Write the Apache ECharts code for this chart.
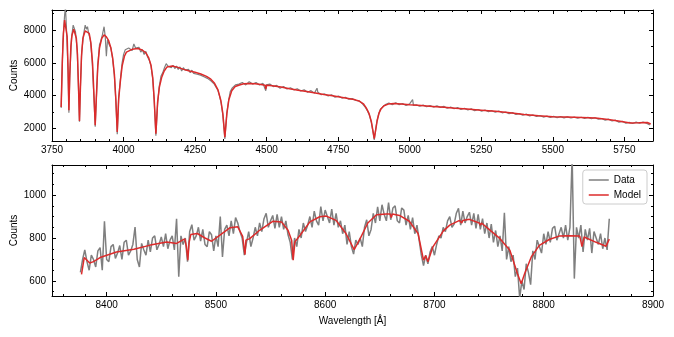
<!DOCTYPE html>
<html lang="en">
<head>
    <meta charset="UTF-8">
    <title>Spectrum fit</title>
    <script src="https://cdn.jsdelivr.net/npm/echarts@6/dist/echarts.min.js"></script>
    <style>
        html, body { margin: 0; padding: 0; background: #fff; }
        #chart { width: 674px; height: 337px; }
    </style>
</head>
<body>
<div id="chart"></div>
<script>
// blue arm: [wavelength, counts]
const topData = [
    [3782,3250],[3788,7300],[3794,8900],[3797,9400],[3800,8300],[3806,5700],[3809,2950],[3812,5100],
    [3818,7500],[3824,8300],[3828,8200],[3832,7900],[3838,6800],[3843,4200],[3846,2400],[3849,4400],
    [3854,6700],[3860,7700],[3866,8300],[3870,8050],[3874,8200],[3878,7800],[3884,7400],[3890,6200],
    [3895,4400],[3901,2100],[3905,3800],[3910,5900],[3916,7100],[3920,7300],[3926,7700],[3932,8200],
    [3936,7600],[3940,6400],[3944,7400],[3950,7100],[3956,6900],[3962,6200],[3968,5200],[3973,3700],
    [3978,1650],[3983,3900],[3989,5000],[3995,6000],[4000,6500],[4006,6800],[4012,6700],[4018,6900],
    [4024,7000],[4030,6750],[4036,7150],[4042,6900],[4048,6800],[4054,6950],[4060,6650],[4066,6800],
    [4072,6500],[4078,6700],[4084,6350],[4090,6150],[4096,5800],[4102,5000],[4107,3700],[4113,1550],
    [4119,3500],[4125,4600],[4131,5200],[4137,5400],[4143,5700],[4149,5950],[4155,5800],[4161,5900],
    [4167,5700],[4173,5850],[4179,5650],[4185,5800],[4191,5600],[4197,5750],[4203,5500],[4209,5700],
    [4215,5550],[4221,5450],[4227,5600],[4233,5400],[4239,5550],[4245,5350],[4251,5450],[4257,5300],
    [4263,5400],[4269,5250],[4275,5350],[4281,5150],[4287,5200],[4293,5050],[4299,5100],[4305,4900],
    [4311,4900],[4317,4700],[4323,4600],[4329,4350],[4335,4000],[4341,3550],[4347,2800],[4354,1350],
    [4361,2950],[4367,3700],[4373,4250],[4379,4450],[4385,4500],[4391,4650],[4397,4550],[4403,4700],
    [4415,4800],[4427,4650],[4439,4850],[4451,4700],[4463,4800],[4475,4650],[4487,4750],[4497,4300],
    [4499,4650],[4511,4700],[4523,4550],[4535,4620],[4547,4450],[4559,4550],[4571,4400],[4583,4480],
    [4595,4350],[4607,4420],[4619,4280],[4631,4350],[4643,4200],[4655,4300],[4667,4150],[4676,4450],
    [4679,4200],[4691,4050],[4703,4100],[4715,3980],[4727,4050],[4739,3900],[4751,3970],[4763,3850],
    [4775,3900],[4787,3780],[4799,3820],[4811,3700],[4823,3680],[4835,3500],[4845,3280],[4853,3050],
    [4860,2750],[4866,2350],[4871,1850],[4876,1300],[4881,1950],[4886,2500],[4891,2850],[4897,3150],
    [4905,3300],[4915,3450],[4927,3550],[4939,3450],[4951,3560],[4963,3450],[4975,3520],[4987,3400],
    [4999,3480],[5010,3750],[5013,3400],[5023,3430],[5035,3350],[5047,3420],[5059,3320],[5071,3390],
    [5083,3300],[5095,3370],[5107,3280],[5119,3340],[5131,3230],[5143,3300],[5155,3200],[5167,3270],
    [5179,3150],[5191,3230],[5203,3120],[5215,3190],[5227,3080],[5239,3150],[5251,3050],[5263,3120],
    [5275,3020],[5287,3080],[5299,2980],[5311,3060],[5323,2950],[5335,3000],[5347,2900],[5359,2960],
    [5371,2850],[5383,2900],[5395,2800],[5407,2870],[5419,2760],[5431,2820],[5443,2730],[5455,2780],
    [5467,2690],[5479,2750],[5491,2670],[5503,2730],[5515,2650],[5527,2720],[5539,2640],[5551,2700],
    [5563,2630],[5575,2690],[5587,2620],[5599,2680],[5611,2610],[5623,2670],[5635,2590],[5647,2650],
    [5659,2560],[5671,2600],[5683,2500],[5695,2560],[5707,2450],[5719,2500],[5731,2380],[5743,2430],
    [5755,2310],[5767,2370],[5779,2300],[5791,2380],[5803,2310],[5815,2390],[5827,2320],[5839,2200]
];

const topModel = [
    [3782,3300],[3786,6000],[3790,7800],[3794,8600],[3797,8720],[3800,8500],[3803,7600],[3806,5600],
    [3809,3100],[3812,5200],[3816,7000],[3820,7700],[3826,8050],[3830,8000],[3835,7500],[3839,6500],
    [3843,4300],[3846,2450],[3849,4300],[3853,6400],[3858,7500],[3866,7950],[3872,8000],[3880,7800],
    [3886,7200],[3892,5900],[3897,3900],[3901,2190],[3905,3900],[3910,5800],[3916,6900],[3924,7500],
    [3932,7700],[3940,7580],[3948,7350],[3955,6950],[3962,6300],[3968,5300],[3973,3800],[3978,1780],
    [3983,3800],[3989,4900],[3995,5800],[4003,6400],[4010,6650],[4030,6820],[4050,6870],[4065,6780],
    [4078,6600],[4088,6300],[4096,5850],[4102,5100],[4107,3800],[4113,1680],[4119,3600],[4125,4500],
    [4133,5100],[4142,5500],[4152,5750],[4170,5800],[4190,5720],[4210,5600],[4230,5500],[4250,5420],
    [4270,5320],[4290,5170],[4305,5000],[4318,4750],[4330,4350],[4340,3700],[4347,2900],[4354,1470],
    [4361,2900],[4368,3750],[4378,4300],[4390,4550],[4405,4650],[4420,4720],[4440,4740],[4460,4720],
    [4480,4680],[4495,4630],[4497,4400],[4500,4630],[4520,4600],[4550,4520],[4580,4420],[4610,4330],
    [4640,4250],[4670,4160],[4700,4070],[4730,3990],[4760,3900],[4790,3810],[4810,3740],[4825,3650],
    [4838,3500],[4848,3250],[4858,2900],[4866,2400],[4871,1900],[4876,1380],[4881,1900],[4886,2450],
    [4893,2950],[4900,3200],[4910,3380],[4925,3480],[4945,3510],[4970,3490],[5000,3440],[5040,3390],
    [5080,3340],[5120,3290],[5160,3230],[5200,3180],[5250,3110],[5300,3040],[5350,2950],[5400,2850],
    [5450,2770],[5500,2710],[5550,2690],[5600,2660],[5650,2630],[5700,2520],[5740,2420],[5770,2330],
    [5800,2340],[5830,2360],[5842,2270]
];

// red arm (Ca triplet region)
const botData = [
    [8376,640],[8378,700],[8380,745],[8382,690],[8384,650],[8386,720],[8388,700],[8390,665],
    [8392,740],[8394,755],[8396,650],[8398,878],[8400,700],[8402,690],[8404,760],[8406,770],
    [8408,705],[8410,730],[8412,765],[8414,700],[8416,780],[8418,790],[8420,720],[8422,740],
    [8424,770],[8426,851],[8428,700],[8430,665],[8432,775],[8434,745],[8436,720],[8438,790],
    [8440,735],[8442,800],[8444,810],[8446,745],[8448,770],[8450,805],[8452,760],[8454,820],
    [8456,750],[8458,790],[8460,810],[8462,745],[8464,890],[8466,620],[8468,810],[8470,770],
    [8472,800],[8474,690],[8476,830],[8478,862],[8480,790],[8482,810],[8484,850],[8486,785],
    [8488,840],[8490,770],[8492,760],[8494,830],[8496,815],[8498,740],[8500,810],[8502,760],
    [8504,900],[8506,712],[8508,840],[8510,860],[8512,810],[8514,880],[8516,820],[8518,895],
    [8520,870],[8522,830],[8524,800],[8526,720],[8528,780],[8530,830],[8532,760],[8534,800],
    [8536,850],[8538,810],[8540,870],[8542,830],[8544,890],[8546,915],[8548,850],[8550,880],
    [8552,905],[8554,845],[8556,910],[8558,850],[8560,900],[8562,840],[8564,880],[8566,815],
    [8568,780],[8570,700],[8572,800],[8574,760],[8576,840],[8578,800],[8580,870],[8582,830],
    [8584,860],[8586,900],[8588,850],[8590,925],[8592,880],[8594,860],[8596,946],[8598,880],
    [8600,930],[8602,900],[8604,870],[8606,935],[8608,860],[8610,915],[8612,850],[8614,880],
    [8616,820],[8618,860],[8620,770],[8622,830],[8624,760],[8626,725],[8628,790],[8630,770],
    [8632,800],[8634,760],[8636,850],[8638,885],[8640,810],[8642,840],[8644,915],[8646,870],
    [8648,945],[8650,880],[8652,955],[8654,910],[8656,880],[8658,965],[8660,885],[8662,940],
    [8664,950],[8666,880],[8668,870],[8670,940],[8672,930],[8674,860],[8676,905],[8678,840],
    [8680,895],[8682,820],[8684,860],[8686,790],[8688,720],[8690,672],[8692,720],[8694,680],
    [8696,735],[8698,760],[8700,720],[8702,770],[8704,810],[8706,800],[8708,850],[8710,830],
    [8712,880],[8714,900],[8716,850],[8718,865],[8720,915],[8722,938],[8724,860],[8726,925],
    [8728,870],[8730,900],[8732,920],[8734,860],[8736,915],[8738,845],[8740,910],[8742,840],
    [8744,890],[8746,820],[8748,870],[8750,800],[8752,865],[8754,780],[8756,835],[8758,760],
    [8760,810],[8762,740],[8764,917],[8766,700],[8768,760],[8770,690],[8772,720],[8774,620],
    [8776,660],[8778,520],[8780,600],[8782,560],[8784,680],[8786,640],[8788,583],[8790,740],
    [8792,700],[8794,790],[8796,760],[8798,730],[8800,820],[8802,770],[8804,830],[8806,780],
    [8808,845],[8810,855],[8812,790],[8814,820],[8816,850],[8818,800],[8820,860],[8822,790],
    [8824,850],[8826,1180],[8828,611],[8830,850],[8832,800],[8834,860],[8836,735],[8838,840],
    [8840,790],[8842,845],[8844,730],[8846,830],[8848,800],[8850,770],[8852,820],[8854,750],
    [8856,800],[8858,745],[8860,890]
];

const botModel = [
    [8377,631],[8379.5,709],[8381,705],[8384.5,684],[8388,690],[8394,709],[8409,735],[8425,748],
    [8440,767],[8455,781],[8464,775],[8471.5,796],[8473,760],[8474.3,697],[8475.5,780],[8477,816],
    [8483,821],[8490,800],[8496,785],[8504,815],[8513,848],[8520,852],[8524.5,808],[8526.6,722],
    [8527.5,790],[8531,797],[8540,836],[8552,878],[8560,875],[8566,836],[8569.3,790],[8570.7,697],
    [8572.3,782],[8577,813],[8586,875],[8595,899],[8601,902],[8610,882],[8619,821],[8626.5,746],
    [8632,797],[8639,870],[8647,908],[8656,912],[8659.5,912],[8660.5,895],[8661.5,912],[8668,905],
    [8677,878],[8685,821],[8690,697],[8692,718],[8694,689],[8698.6,759],[8708,832],[8714,860],
    [8723,882],[8725,870],[8726,882],[8732,887],[8741,870],[8742,860],[8743,870],[8750,840],
    [8760,797],[8769,743],[8776,634],[8779.4,587],[8782.5,634],[8788.6,712],[8796,766],[8805,793],
    [8814,809],[8823,810],[8833,809],[8835,760],[8837,805],[8848,780],[8857,762],[8860,795]
];

const FONT = 'Liberation Sans';
const GREY = '#7f7f7f';
const RED = '#dc2b2b';

function axis(kind, grid, pos, min, max, split, minorSplit, showLabels, interval) {
    let a = {
        type: 'value',
        gridIndex: grid,
        position: pos,
        min: min,
        max: max,
        splitNumber: split,
        scale: true,
        axisLine: { show: true, onZero: false, lineStyle: { color: '#000', width: 1 } },
        axisTick: { show: true, inside: true, length: 4, lineStyle: { color: '#000', width: 1 } },
        minorTick: { show: true, splitNumber: minorSplit, length: 2, lineStyle: { color: '#000', width: 1 } },
        splitLine: { show: false },
        axisLabel: {
            show: showLabels,
            fontFamily: FONT,
            fontSize: 10,
            color: '#000',
            margin: kind === 'x' ? 4 : 6,
            showMinLabel: false,
            showMaxLabel: false,
            formatter: function (v) { return String(v); }
        }
    };
    if (interval) a.interval = interval;
    return a;
}

let chart = echarts.init(document.getElementById('chart'));

let topX = axis('x', 0, 'bottom', 3750, 5850, 8, 5, true, 250);
topX.axisLabel.showMinLabel = true;
let botX = axis('x', 1, 'bottom', 8350, 8900, 5, 5, true);
botX.axisLabel.showMaxLabel = true;
botX.name = 'Wavelength [Å]';
botX.nameLocation = 'middle';
botX.nameGap = 20;
botX.nameMoveOverlap = false;
botX.nameTextStyle = { fontFamily: FONT, fontSize: 10, color: '#000' };

let topY = axis('y', 0, 'left', 1230, 9220, 4, 2, true);
let botY = axis('y', 1, 'left', 530, 1140, 3, 4, true);
[topY, botY].forEach(function (y) {
    y.name = 'Counts';
    y.nameLocation = 'middle';
    y.nameGap = 33;
    y.nameMoveOverlap = false;
    y.nameTextStyle = { fontFamily: FONT, fontSize: 10, color: '#000' };
});

let option = {
    animation: false,
    backgroundColor: '#fff',
    textStyle: { fontFamily: FONT },
    grid: [
        { left: 52, right: 21, top: 10, height: 131, containLabel: false, outerBoundsMode: 'none' },
        { left: 52, right: 21, top: 165, height: 131, containLabel: false, outerBoundsMode: 'none' }
    ],
    xAxis: [
        topX,
        axis('x', 0, 'top', 3750, 5850, 8, 5, false, 250),
        botX,
        axis('x', 1, 'top', 8350, 8900, 5, 5, false)
    ],
    yAxis: [
        topY,
        axis('y', 0, 'right', 1230, 9220, 4, 2, false),
        botY,
        axis('y', 1, 'right', 530, 1140, 3, 4, false)
    ],
    legend: {
        data: ['Data', 'Model'],
        orient: 'vertical',
        right: 27,
        top: 170,
        icon: 'rect',
        itemWidth: 20,
        itemHeight: 1.5,
        itemGap: 5,
        padding: [5, 6, 4, 6],
        borderColor: '#cccccc',
        borderWidth: 1,
        borderRadius: 3,
        backgroundColor: 'rgba(255,255,255,0.85)',
        textStyle: { fontFamily: FONT, fontSize: 10, color: '#000' }
    },
    series: [
        {
            name: 'Data', type: 'line', xAxisIndex: 0, yAxisIndex: 0,
            data: topData, showSymbol: false, color: GREY,
            lineStyle: { color: GREY, width: 1.2 }, clip: true, z: 2
        },
        {
            name: 'Model', type: 'line', xAxisIndex: 0, yAxisIndex: 0,
            data: topModel, showSymbol: false, color: RED,
            lineStyle: { color: RED, width: 1.5 }, clip: true, z: 3
        },
        {
            name: 'Data', type: 'line', xAxisIndex: 2, yAxisIndex: 2,
            data: botData, showSymbol: false, color: GREY,
            lineStyle: { color: GREY, width: 1.5 }, clip: true, z: 2
        },
        {
            name: 'Model', type: 'line', xAxisIndex: 2, yAxisIndex: 2,
            data: botModel, showSymbol: false, color: RED,
            lineStyle: { color: RED, width: 1.5 }, clip: true, z: 3
        }
    ]
};
chart.setOption(option);
</script>
</body>
</html>
